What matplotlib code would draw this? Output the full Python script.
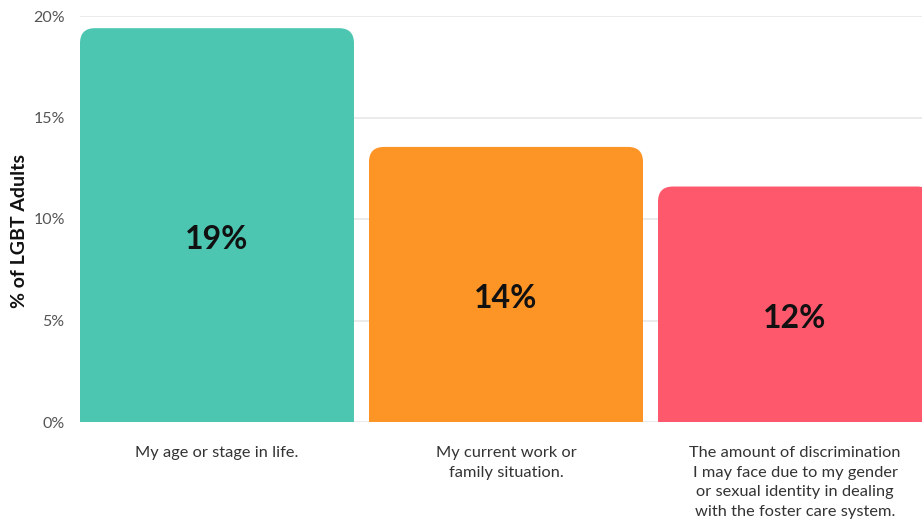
import matplotlib.pyplot as plt
from matplotlib.path import Path
from matplotlib.patches import PathPatch

# share of LGBT adults citing each reason
categories = [
    "My age or stage in life.",
    "My current work or\nfamily situation.",
    "The amount of discrimination\nI may face due to my gender\nor sexual identity in dealing\nwith the foster care system.",
]
values = [19.4, 13.55, 11.6]
colors = ["#4cc6b1", "#fd9426", "#fe586c"]
yticks = [0, 5, 10, 15, 20]

plt.rcParams['font.family'] = ['Lato', 'DejaVu Sans']

W, H = 922, 524
fig = plt.figure(figsize=(W / 100, H / 100), dpi=100)
ax = fig.add_axes([80 / W, (H - 422) / H, 852 / W, 406 / H])

width = 0.948
ax.set_xlim(-width / 2, len(values) - 1 + width / 2)
ax.set_ylim(0, 20)

bars = ax.bar(range(len(values)), values, width=width, color="none")

# rounded top corners (radius in pixels converted to data units)
r_px = 15
rx = r_px / (852 / (len(values) - 1 + width))
ry = r_px / (406 / 20)
for b, c in zip(bars, colors):
    x0, w, h = b.get_x(), b.get_width(), b.get_height()
    x1 = x0 + w
    verts = [(x0, 0), (x0, h - ry), (x0, h), (x0 + rx, h),
             (x1 - rx, h), (x1, h), (x1, h - ry), (x1, 0), (x0, 0)]
    codes = [Path.MOVETO, Path.LINETO, Path.CURVE3, Path.CURVE3,
             Path.LINETO, Path.CURVE3, Path.CURVE3, Path.LINETO, Path.CLOSEPOLY]
    ax.add_patch(PathPatch(Path(verts, codes), facecolor=c, edgecolor="none",
                           zorder=3, clip_on=False))
    ax.text(x0 + w / 2, h / 2 - 0.7, f"{h:.0f}%", ha="center", va="center",
            fontsize=23, fontweight="bold", color="#111111", zorder=4)

ax.set_yticks(yticks)
ax.set_yticklabels([f"{t}%" for t in yticks], fontsize=11.5, color="#555555")
ax.tick_params(axis="y", length=0, pad=11)
ax.set_xticks([])
ax.grid(axis="y", color="#e8e8e8", linewidth=1.2, zorder=0)
ax.set_axisbelow(True)
for s in ax.spines.values():
    s.set_visible(False)

ax.set_ylabel("% of LGBT Adults", fontsize=14, fontweight="bold", color="#111111")
ax.yaxis.set_label_coords(-52 / 852, 0.47)

for i, lab in enumerate(categories):
    ax.text(i, -1.2, lab, ha="center", va="top", fontsize=11.8, color="#333333",
            linespacing=1.5)

fig.savefig("out.png", dpi=100)
